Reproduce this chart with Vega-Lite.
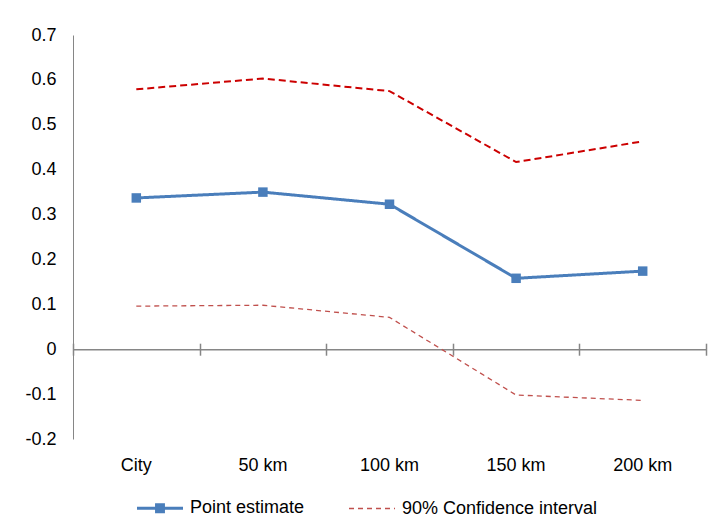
{
  "$schema": "https://vega.github.io/schema/vega-lite/v6.json",
  "width": 633,
  "height": 404,
  "autosize": {"type": "none"},
  "padding": {"left": 73, "top": 35, "right": 11, "bottom": 90},
  "background": "white",
  "config": {
    "view": {"stroke": null},
    "font": "Liberation Sans",
    "axis": {"labelFont": "Liberation Sans", "labelFontSize": 18, "labelColor": "#000000", "domainColor": "#868686", "tickColor": "#868686", "grid": false, "title": null},
    "legend": {"labelFont": "Liberation Sans", "labelFontSize": 18, "labelColor": "#000000", "labelLimit": 0, "padding": 0}
  },
  "data": {
    "values": [
      {"cat": "City", "series": "Point estimate", "bound": "estimate", "value": 0.337},
      {"cat": "50 km", "series": "Point estimate", "bound": "estimate", "value": 0.350},
      {"cat": "100 km", "series": "Point estimate", "bound": "estimate", "value": 0.323},
      {"cat": "150 km", "series": "Point estimate", "bound": "estimate", "value": 0.158},
      {"cat": "200 km", "series": "Point estimate", "bound": "estimate", "value": 0.174},
      {"cat": "City", "series": "90% Confidence interval", "bound": "upper", "value": 0.579},
      {"cat": "50 km", "series": "90% Confidence interval", "bound": "upper", "value": 0.603},
      {"cat": "100 km", "series": "90% Confidence interval", "bound": "upper", "value": 0.575},
      {"cat": "150 km", "series": "90% Confidence interval", "bound": "upper", "value": 0.417},
      {"cat": "200 km", "series": "90% Confidence interval", "bound": "upper", "value": 0.463},
      {"cat": "City", "series": "90% Confidence interval", "bound": "lower", "value": 0.096},
      {"cat": "50 km", "series": "90% Confidence interval", "bound": "lower", "value": 0.098},
      {"cat": "100 km", "series": "90% Confidence interval", "bound": "lower", "value": 0.071},
      {"cat": "150 km", "series": "90% Confidence interval", "bound": "lower", "value": -0.102},
      {"cat": "200 km", "series": "90% Confidence interval", "bound": "lower", "value": -0.114}
    ]
  },
  "resolve": {"scale": {"x": "shared", "y": "shared"}, "axis": {"x": "independent"}},
  "layer": [
    {
      "transform": [{"filter": "datum.bound === 'upper'"}],
      "mark": {"type": "line", "color": "#CC0000", "strokeWidth": 2, "strokeDash": [7, 4]},
      "encoding": {
        "x": {"field": "cat", "type": "nominal", "sort": ["City", "50 km", "100 km", "150 km", "200 km"],
              "scale": {"type": "band", "paddingInner": 0, "paddingOuter": 0},
              "axis": {"orient": "bottom", "domain": false, "ticks": false, "tickSize": 0, "labelAngle": 0, "labelBaseline": "alphabetic", "labelPadding": 31}},
        "y": {"field": "value", "type": "quantitative",
              "scale": {"domain": [-0.2, 0.7], "nice": false, "zero": false},
              "axis": {"values": [-0.2, -0.1, 0, 0.1, 0.2, 0.3, 0.4, 0.5, 0.6, 0.7], "ticks": false, "tickSize": 0, "labelPadding": 17,
                       "labelExpr": "abs(datum.value) < 1e-9 ? '0' : (datum.value < 0 ? '-' : '') + format(abs(datum.value), '.1f')"}}
      }
    },
    {
      "transform": [{"filter": "datum.bound === 'lower'"}],
      "mark": {"type": "line", "strokeWidth": 1.3},
      "encoding": {
        "x": {"field": "cat", "type": "nominal", "sort": ["City", "50 km", "100 km", "150 km", "200 km"],
              "axis": {"orient": "bottom", "offset": -89.8, "labels": false, "domain": true, "ticks": false, "domainWidth": 1.5}},
        "y": {"field": "value", "type": "quantitative"},
        "color": {"field": "series", "type": "nominal",
                  "scale": {"domain": ["Point estimate", "90% Confidence interval"], "range": ["#4A7EBB", "#C0504D"]},
                  "legend": {"orient": "none", "legendX": 78, "legendY": 464, "direction": "horizontal", "title": null, "symbolSize": 2116, "labelOffset": 21, "columnPadding": 41,
                             "encode": {"symbols": {"update": {
                               "shape": {"signal": "datum.value === 'Point estimate' ? 'M-1,0H1M-0.15,-0.15H0.15V0.15H-0.15Z' : 'M-1,0H1'"},
                               "strokeWidth": {"signal": "datum.value === 'Point estimate' ? 3 : 1.5"},
                               "fill": {"signal": "datum.value === 'Point estimate' ? '#4A7EBB' : 'transparent'"},
                               "opacity": {"value": 1}
                             }}}}},
        "strokeDash": {"field": "series", "type": "nominal",
                       "scale": {"domain": ["Point estimate", "90% Confidence interval"], "range": [[1, 0], [5, 4]]}}
      }
    },
    {
      "transform": [{"filter": "datum.bound === 'estimate'"}],
      "mark": {"type": "line", "strokeWidth": 3},
      "encoding": {
        "x": {"field": "cat", "type": "nominal", "sort": ["City", "50 km", "100 km", "150 km", "200 km"],
              "axis": {"orient": "bottom", "offset": -95.8, "labels": false, "domain": false, "ticks": true, "tickSize": 12, "tickBand": "extent", "tickWidth": 1.5}},
        "y": {"field": "value", "type": "quantitative"},
        "color": {"field": "series", "type": "nominal"},
        "strokeDash": {"field": "series", "type": "nominal"}
      }
    },
    {
      "transform": [{"filter": "datum.bound === 'estimate'"}],
      "mark": {"type": "point", "shape": "square", "filled": true, "size": 90, "color": "#4A7EBB", "opacity": 1},
      "encoding": {
        "x": {"field": "cat", "type": "nominal", "sort": ["City", "50 km", "100 km", "150 km", "200 km"], "axis": null},
        "y": {"field": "value", "type": "quantitative"}
      }
    }
  ]
}
